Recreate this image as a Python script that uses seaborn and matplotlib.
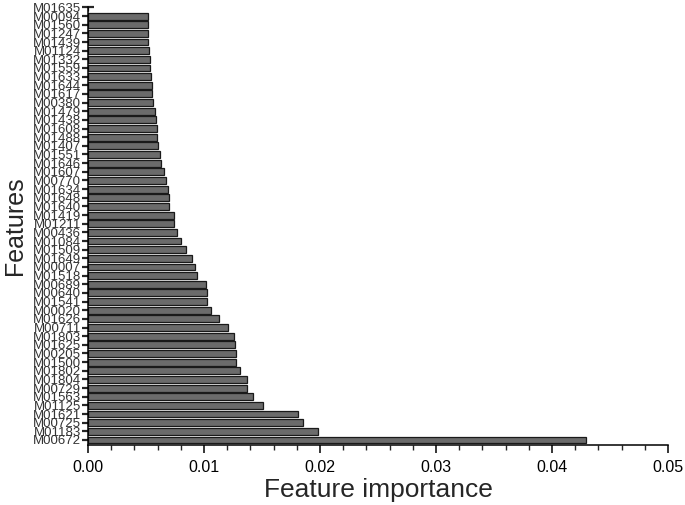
import matplotlib
matplotlib.use('Agg')
import numpy as np
import pandas as pd
import matplotlib.pyplot as plt
import seaborn as sns
from matplotlib.ticker import MultipleLocator

# feature names, top to bottom as shown
features = [
    "M01635", "M00094", "M01560", "M01247", "M01439", "M01124", "M01332",
    "M01559", "M01633", "M01644", "M01617", "M00380", "M01479", "M01438",
    "M01608", "M01488", "M01407", "M01551", "M01646", "M01607", "M00770",
    "M01634", "M01648", "M01640", "M01419", "M01211", "M00436", "M01084",
    "M01509", "M01649", "M00007", "M01518", "M00689", "M00640", "M01541",
    "M00020", "M01626", "M00711", "M01803", "M01625", "M00205", "M01500",
    "M01802", "M01804", "M00729", "M01563", "M01125", "M01621", "M00725",
    "M01183", "M00672",
]

importance = [
    0.0, 0.00515, 0.00515, 0.00520, 0.00520, 0.00529, 0.00535,
    0.00538, 0.00543, 0.00549, 0.00555, 0.00564, 0.00574, 0.00584,
    0.00592, 0.00598, 0.00607, 0.00624, 0.00627, 0.00658, 0.00670,
    0.00687, 0.00698, 0.00698, 0.00739, 0.00739, 0.00770, 0.00805,
    0.00848, 0.00900, 0.00926, 0.00940, 0.01017, 0.01026, 0.01029,
    0.01064, 0.01127, 0.01207, 0.01259, 0.01270, 0.01276, 0.01276,
    0.01310, 0.01368, 0.01374, 0.01420, 0.01512, 0.01810, 0.01857,
    0.01983, 0.04297,
]

df = pd.DataFrame({"feature": features, "importance": importance})

sns.set_style("ticks")
plt.rcParams['font.family'] = ['Liberation Sans', 'DejaVu Sans']

fig = plt.figure(figsize=(6.85, 5.05), dpi=100)
ax = fig.add_axes([88 / 685, 1 - 445 / 505, 580 / 685, 438 / 505])

sns.barplot(data=df, x="importance", y="feature", orient="h",
            color="#6b6b6b", saturation=1, edgecolor="#1a1a1a",
            linewidth=0.9, width=0.8, ax=ax)

ax.set_xlim(0, 0.05)
ax.set_ylim(50.58, -0.05)
ax.xaxis.set_major_locator(MultipleLocator(0.01))
ax.xaxis.set_minor_locator(MultipleLocator(0.002))
ax.xaxis.set_major_formatter(matplotlib.ticker.FormatStrFormatter("%.2f"))

ax.tick_params(axis="x", which="major", direction="out", length=6, width=1.1,
               labelsize=11.5, pad=5, colors="black")
ax.tick_params(axis="x", which="minor", direction="out", length=3.5, width=1.0)
ax.tick_params(axis="y", direction="inout", length=8, width=1.6,
               labelsize=9.5, pad=1)
for lbl in ax.get_yticklabels():
    lbl.set_color("#333333")

sns.despine(ax=ax)
for side in ["left", "bottom"]:
    ax.spines[side].set_linewidth(1.1)
    ax.spines[side].set_color("black")

ax.set_xlabel("Feature importance", fontsize=19, labelpad=2)
ax.set_ylabel("Features", fontsize=18, labelpad=4)

fig.savefig("out.png", dpi=100)
